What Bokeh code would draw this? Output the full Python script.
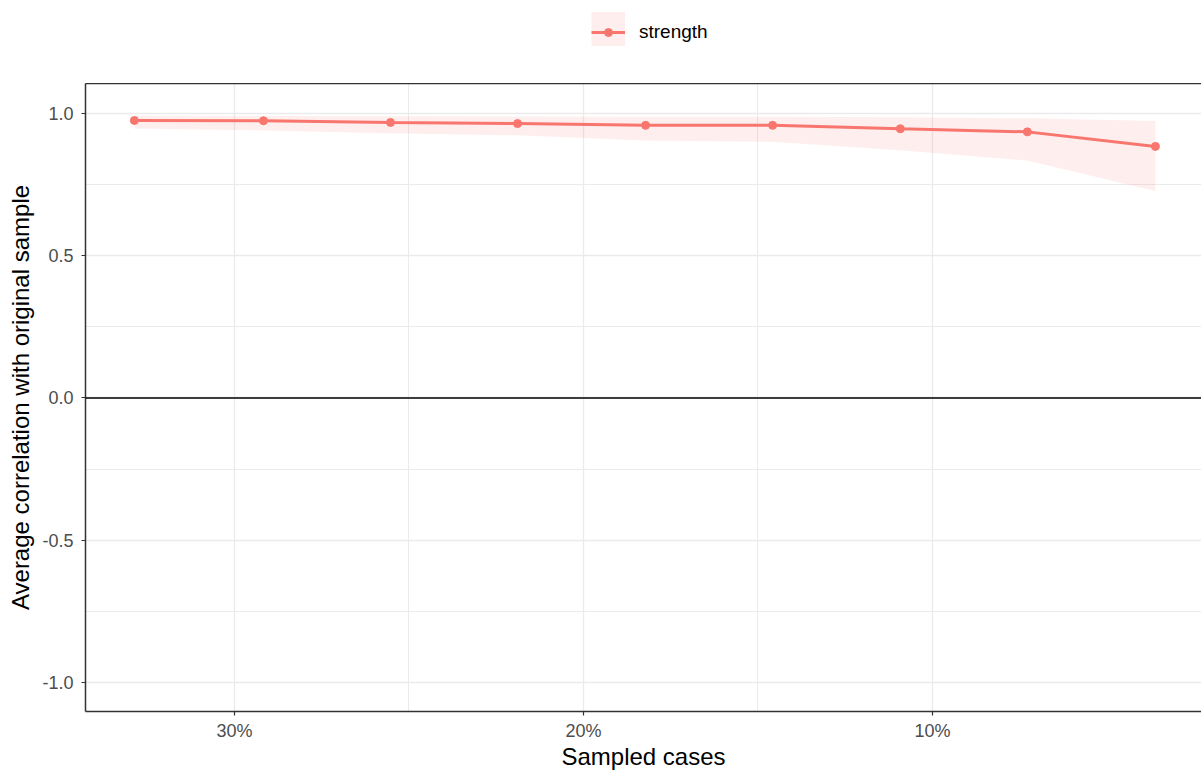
from bokeh.plotting import figure
from bokeh.layouts import column
from bokeh.models import (ColumnDataSource, Range1d, FixedTicker, PrintfTickFormatter,
                          Span, Legend, LegendItem, LinearAxis)
from bokeh.embed import file_html
from bokeh.resources import INLINE

# ---- data ----
sampled_pct = [32.87, 29.17, 25.53, 21.89, 18.22, 14.58, 10.92, 7.28, 3.61]
mean_r = [0.975, 0.974, 0.968, 0.964, 0.958, 0.958, 0.946, 0.935, 0.884]
upper_r = [0.992, 0.991, 0.990, 0.989, 0.988, 0.988, 0.986, 0.983, 0.973]
lower_r = [0.947, 0.940, 0.930, 0.923, 0.905, 0.900, 0.870, 0.834, 0.727]
series_name = "strength"
x_ticks = [10, 20, 30]
x_minor = [15, 25]
y_ticks = [-1.0, -0.5, 0.0, 0.5, 1.0]
y_minor = [-0.75, -0.25, 0.25, 0.75]

COL = "#F8766D"
FONT = "Liberation Sans"
W = 1201
LEG_H = 83
MAIN_H = 689

src = ColumnDataSource(dict(x=sampled_pct, y=mean_r, lo=lower_r, hi=upper_r))

# ---------------- main plot ----------------
p = figure(width=W, height=MAIN_H, output_backend="svg", toolbar_location=None,
           x_range=Range1d(34.27, 2.29), y_range=Range1d(-1.102, 1.105),
           min_border_left=85, min_border_right=0, min_border_top=0, min_border_bottom=60,
           x_axis_label="Sampled cases", y_axis_label="Average correlation with original sample")
p.outline_line_color = None
p.background_fill_color = "white"

p.xgrid.ticker = FixedTicker(ticks=x_ticks, minor_ticks=x_minor)
p.ygrid.ticker = FixedTicker(ticks=y_ticks, minor_ticks=y_minor)
for g in (p.xgrid, p.ygrid):
    g.grid_line_color = "#EBEBEB"
    g.grid_line_width = 1.3
    g.minor_grid_line_color = "#EBEBEB"
    g.minor_grid_line_width = 1

p.xaxis.ticker = FixedTicker(ticks=x_ticks, minor_ticks=x_minor)
p.xaxis.formatter = PrintfTickFormatter(format="%d%%")
p.yaxis.ticker = FixedTicker(ticks=y_ticks, minor_ticks=y_minor)
p.yaxis.formatter = PrintfTickFormatter(format="%.1f")
for ax in (p.xaxis[0], p.yaxis[0]):
    ax.axis_line_color = "#333333"
    ax.axis_line_width = 1.5
    ax.major_tick_line_color = "#333333"
    ax.major_tick_line_width = 1.2
    ax.major_tick_out = 4
    ax.major_tick_in = 0
    ax.minor_tick_line_color = None
    ax.major_label_text_font = FONT
    ax.major_label_text_font_size = "18px"
    ax.major_label_text_color = "#4D4D4D"
    ax.axis_label_text_font = FONT
    ax.axis_label_text_font_size = "24px"
    ax.axis_label_text_font_style = "normal"
    ax.axis_label_text_color = "black"
p.xaxis.major_label_standoff = 5
p.xaxis.axis_label_standoff = -1
p.yaxis.major_label_standoff = 8
p.yaxis.axis_label_standoff = 5

# top border of the panel
top_ax = LinearAxis(ticker=FixedTicker(ticks=[]), axis_line_color="#333333", axis_line_width=1.5,
                    major_tick_line_color=None, minor_tick_line_color=None,
                    major_tick_out=0, major_tick_in=0, major_label_standoff=0,
                    major_label_text_font_size="0px")
p.add_layout(top_ax, "above")

p.add_layout(Span(location=0, dimension="width", line_color="black", line_width=1.5))

p.varea(x="x", y1="lo", y2="hi", source=src, fill_color=COL, fill_alpha=0.12)
p.line(x="x", y="y", source=src, line_color=COL, line_width=3)
p.scatter(x="x", y="y", source=src, size=8, marker="circle", fill_color=COL, line_color=COL)

# ---------------- legend strip ----------------
lf = figure(width=W, height=LEG_H, output_backend="svg", toolbar_location=None,
            x_range=Range1d(0, 1), y_range=Range1d(0, 1),
            min_border=0, min_border_left=0, min_border_right=0,
            min_border_top=0, min_border_bottom=0)
lf.axis.visible = False
lf.grid.visible = False
lf.outline_line_color = None
# renderers used only for the legend key (their data lie outside this strip's ranges)
key_box = lf.line(x="x", y="y", source=src, line_color=COL, line_alpha=0.12,
                  line_width=40, line_cap="butt")
key_line = lf.line(x="x", y="y", source=src, line_color=COL, line_width=3)
key_pt = lf.scatter(x="x", y="y", source=src, size=8, marker="circle",
                    fill_color=COL, line_color=COL)

legend_box = Legend(items=[LegendItem(label=" ", renderers=[key_box])],
                    location=(506, 37), orientation="horizontal",
                    glyph_width=34, glyph_height=34, label_standoff=0,
                    padding=0, margin=0, spacing=0, border_line_color=None,
                    background_fill_alpha=0, label_text_font_size="1px")
legend = Legend(items=[LegendItem(label=series_name, renderers=[key_line, key_pt])],
                location=(506, 38), orientation="horizontal",
                glyph_width=34, glyph_height=20, label_height=26, label_standoff=14,
                padding=0, margin=0, spacing=0, border_line_color=None,
                background_fill_alpha=0,
                label_text_font=FONT, label_text_font_size="19px", label_text_color="black")
lf.add_layout(legend_box, "center")
lf.add_layout(legend, "center")

layout = column(lf, p, spacing=0)
open("out.html", "w").write(file_html(layout, INLINE))
